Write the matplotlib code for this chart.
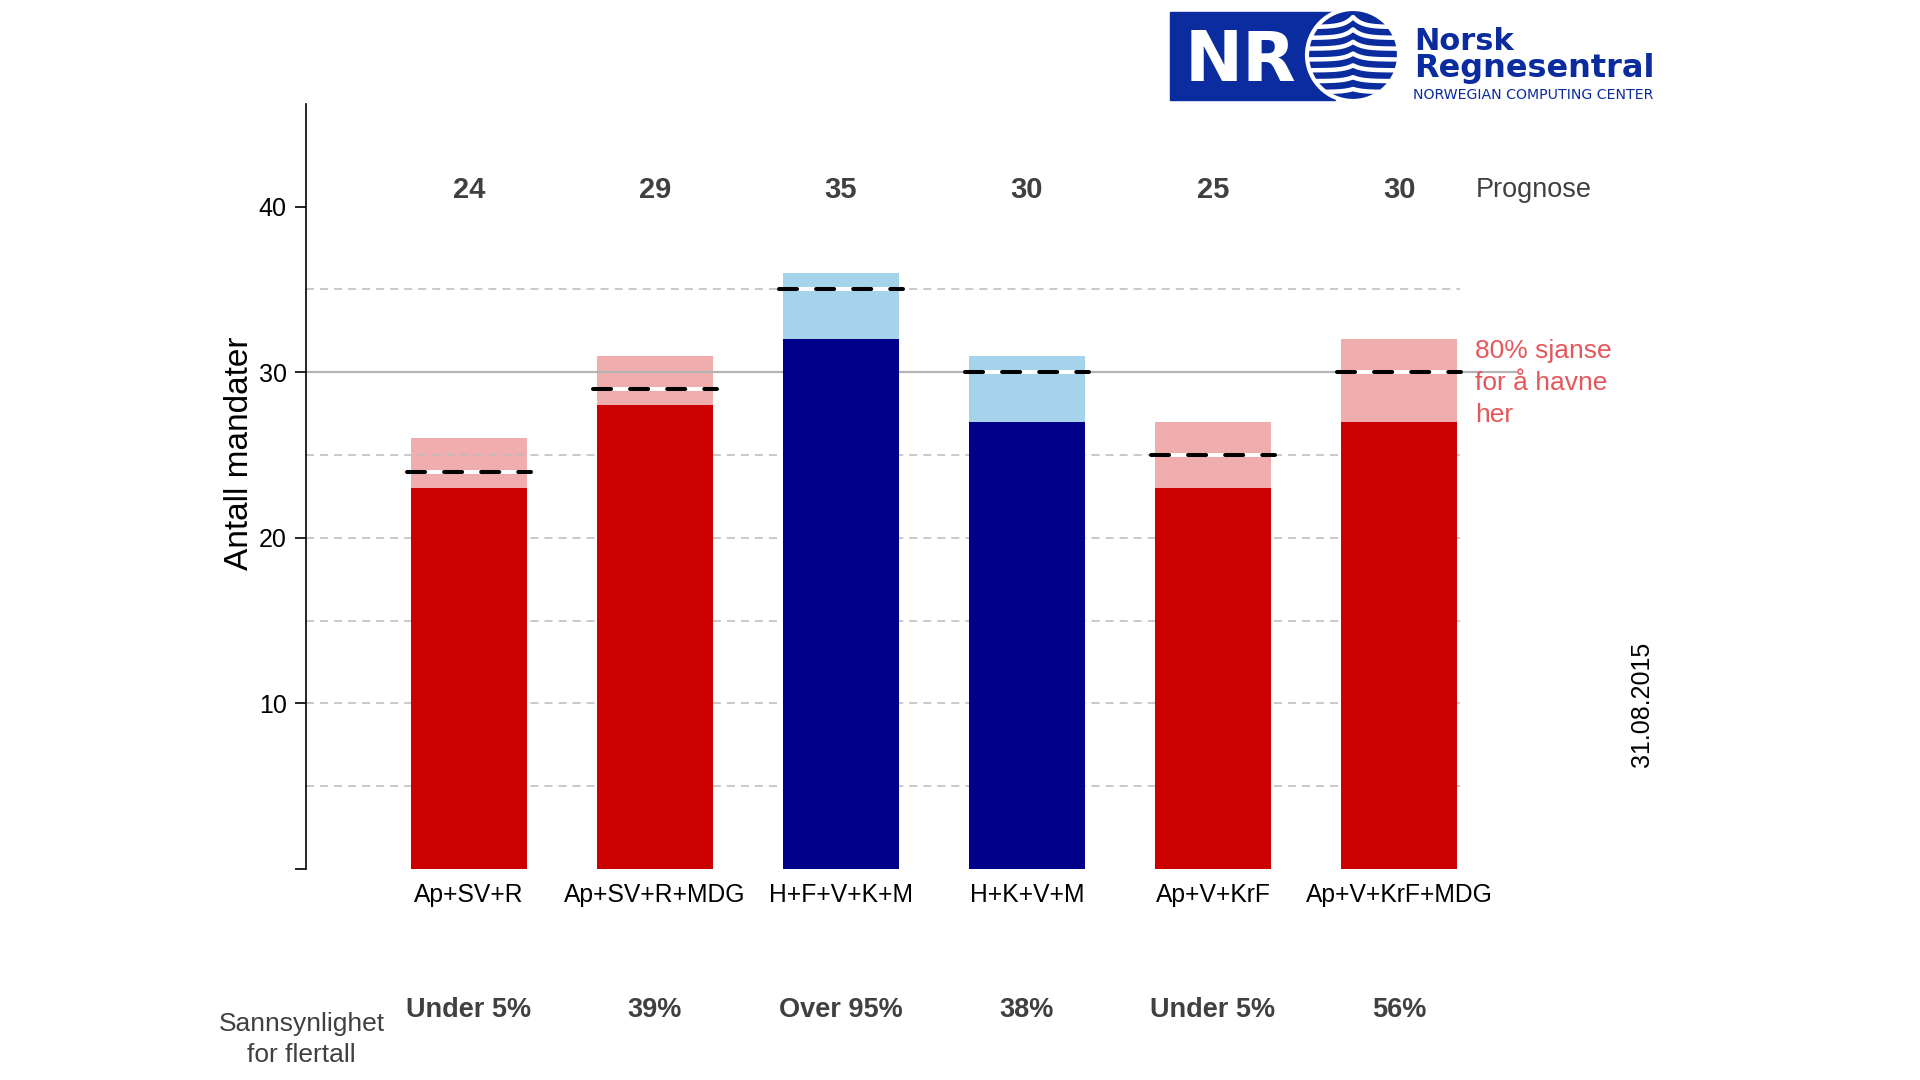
import numpy as np
import matplotlib.pyplot as plt
from matplotlib.patches import Rectangle, Circle

plt.rcParams['font.family'] = ['Liberation Sans', 'DejaVu Sans']
plt.rcParams['lines.scale_dashes'] = False

# --- data ---
koalisjoner = ['Ap+SV+R', 'Ap+SV+R+MDG', 'H+F+V+K+M', 'H+K+V+M', 'Ap+V+KrF', 'Ap+V+KrF+MDG']
blokk = ['rod', 'rod', 'bla', 'bla', 'rod', 'rod']
nedre = [23, 28, 32, 27, 23, 27]        # lower end of 80% interval
ovre = [26, 31, 36, 31, 27, 32]         # upper end of 80% interval
prognose = [24, 29, 35, 30, 25, 30]
sannsynlighet = ['Under 5%', '39%', 'Over 95%', '38%', 'Under 5%', '56%']
flertall = 30
hjelpelinjer = [5, 10, 15, 20, 25, 35]
dato = '31.08.2015'

mork = {'rod': '#CC0000', 'bla': '#00008B'}
lys = {'rod': '#EFADAD', 'bla': '#A6D3EC'}
tekstgra = '#404040'

fig = plt.figure(figsize=(19.2, 10.8), dpi=100)
ax = fig.add_axes([306 / 1920, 1 - 869 / 1080, (1620 - 306) / 1920, (869 - 104) / 1080])
x = np.arange(1, len(koalisjoner) + 1)
x0, x1 = 0.124, 7.188
ax.set_xlim(x0, x1)
ax.set_ylim(0, 46.2)

bw = 0.625
ax.bar(x, np.array(ovre) - np.array(nedre), bottom=nedre, width=bw,
       color=[lys[b] for b in blokk], zorder=1)
ax.hlines(hjelpelinjer, x0, 6.33, colors='#BBBBBB', linestyles=(0, (5.8, 4.3)), lw=1.1, zorder=1.5)
ax.hlines(flertall, x0, 6.64, colors='#B3B3B3', lw=1.6, zorder=1.5)
ax.bar(x, nedre, width=bw, color=[mork[b] for b in blokk], zorder=2)

# median / prognosis lines
for xi, p in zip(x, prognose):
    ax.plot([xi - 0.335, xi + 0.335], [p, p], color='white', lw=2.8, zorder=3, solid_capstyle='butt')
    ax.plot([xi - 0.335, xi + 0.335], [p, p], color='black', lw=2.9, zorder=4,
            dashes=(13, 13.7), dash_capstyle='round')

# axes styling
for s in ['top', 'right', 'bottom']:
    ax.spines[s].set_visible(False)
ax.spines['left'].set_linewidth(1.2)
ax.set_yticks([0, 10, 20, 30, 40])
ax.set_yticklabels(['', '10', '20', '30', '40'])
ax.tick_params(axis='y', length=8, width=1.2, labelsize=18, pad=6, colors='black')
ax.set_xticks(x)
ax.set_xticklabels(koalisjoner)
ax.tick_params(axis='x', length=0, labelsize=17.7, pad=10, colors='black')

ax.text(-0.231, 25.1, 'Antall mandater', rotation=90, fontsize=24, ha='center', va='center',
        clip_on=False)

for xi, p in zip(x, prognose):
    ax.text(xi, 41, str(p), ha='center', va='center', fontsize=21, fontweight='bold', color=tekstgra)
ax.text(6.41, 41, 'Prognose', ha='left', va='center', fontsize=19.5, color=tekstgra)
ax.text(6.41, 29.35, '80% sjanse\nfor å havne\nher', ha='left', va='center', fontsize=19,
        color='#E5575B', linespacing=1.42)

for xi, s in zip(x, sannsynlighet):
    ax.text(xi, -8.5, s, ha='center', va='center', fontsize=19.5, fontweight='bold',
            color=tekstgra, clip_on=False)
ax.text(0.10, -10.3, 'Sannsynlighet\nfor flertall', ha='center', va='center', fontsize=19,
        color=tekstgra, linespacing=1.38, clip_on=False)

fig.text(1642 / 1920, 1 - 704 / 1080, dato, rotation=90, fontsize=18, ha='center', va='center')

# --- logo ---
blue = '#0B2C9E'
lax = fig.add_axes([0, 0, 1, 1])
lax.set_xlim(0, 1920)
lax.set_ylim(1080, 0)
lax.axis('off')
lax.add_patch(Rectangle((1170, 12), 165, 88, color=blue))
cx, cy, r = 1353, 55, 46
lax.add_patch(Circle((cx, cy), r, facecolor=blue, edgecolor='white', lw=3))
clip = Circle((cx, cy), r, transform=lax.transData)
xs = np.linspace(cx - r, cx + r, 300)
for y0, h in zip(np.linspace(27, 92, 7), [10, 8.5, 7, 6, 5, 4, 3]):
    ln, = lax.plot(xs, y0 - h * np.exp(-np.abs(xs - cx) / 9), color='white', lw=3.2)
    ln.set_clip_path(clip)
lax.text(1185, 81, 'NR', color='white', fontsize=50, fontweight='bold', family='DejaVu Sans',
         ha='left', va='baseline')
lax.text(1414, 50, 'Norsk', color=blue, fontsize=22, fontweight='bold', family='DejaVu Sans',
         ha='left', va='baseline')
lax.text(1414, 77, 'Regnesentral', color=blue, fontsize=23, fontweight='bold', family='DejaVu Sans',
         ha='left', va='baseline')
lax.text(1413, 99, 'NORWEGIAN COMPUTING CENTER', color=blue, fontsize=10.2, family='DejaVu Sans',
         ha='left', va='baseline')

fig.savefig('out.png', dpi=100)
